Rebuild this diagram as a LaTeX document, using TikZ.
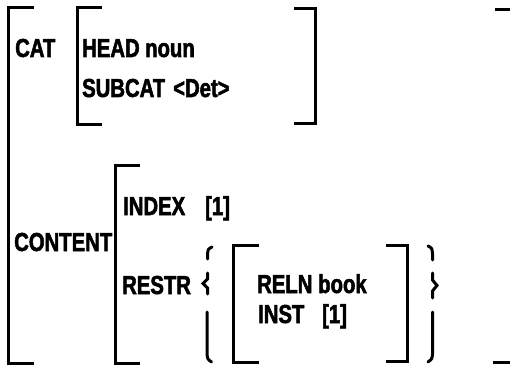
\documentclass[tikz,border=0pt]{standalone}
\usepackage{fontspec}
\setmainfont{Liberation Sans}[BoldFeatures={FakeStretch=0.78,FakeBold=2}]
\begin{document}
\begin{tikzpicture}[x=1pt,y=-1pt,
  lbl/.style={anchor=base west,inner sep=0pt,font=\fontsize{26}{30}\selectfont\bfseries},
  brk/.style={line width=3pt,line join=miter,line cap=rect},
  brc/.style={line width=3pt,line cap=round}]
\fill[white] (0,0) rectangle (510,366);
\useasboundingbox (0,0) rectangle (510,366);
% outer matrix
\draw[brk] (32,8) -- (8,8) -- (8,363) -- (32,363);
\draw[brk] (496,10) -- (512,10);
\draw[brk] (494,362) -- (512,362);
% CAT value
\draw[brk] (100,8) -- (77,8) -- (77,125) -- (100,125);
\draw[brk] (295,9) -- (315,9) -- (315,124) -- (295,124);
% CONTENT value
\draw[brk] (138,165) -- (115,165) -- (115,363) -- (138,363);
% RESTR inner
\draw[brk] (257,245) -- (233,245) -- (233,362) -- (257,362);
\draw[brk] (387,245) -- (407,245) -- (407,361) -- (387,361);
% left brace pieces
\draw[brc] (212,247) .. controls (208,249) .. (207.5,255) -- (207.5,259);
\draw[brc] (207.5,273) -- (207.5,279) -- (203,283.5) -- (207.5,288) -- (207.5,294);
\draw[brc] (207,312) -- (207,354) .. controls (207.5,359) .. (211.5,362);
% right brace pieces
\draw[brc] (428,246) .. controls (432,248) .. (432.5,254) -- (432.5,260);
\draw[brc] (432.5,273) -- (432.5,280) -- (437,285.5) -- (432.5,291) -- (432.5,298);
\draw[brc] (432.5,312) -- (432.5,354) .. controls (432,359) .. (428,362);
% texts
\node[lbl] (cat) at (15,57) {CAT};
\node[lbl] (head) at (82,57) {HEAD};
\node[lbl] (noun) at (145,57) {noun};
\node[lbl] (subcat) at (82,97) {SUBCAT};
\node[lbl] (det) at (173,97) {<Det>};
\node[lbl] (content) at (14,251) {CONTENT};
\node[lbl] (index) at (123,215) {INDEX};
\node[lbl] (one) at (205,215) {[1]};
\node[lbl] (restr) at (122,294) {RESTR};
\node[lbl] (reln) at (257,293) {RELN};
\node[lbl] (book) at (318,293) {book};
\node[lbl] (inst) at (258,323) {INST};
\node[lbl] (onei) at (322,323) {[1]};
\end{tikzpicture}
\end{document}
